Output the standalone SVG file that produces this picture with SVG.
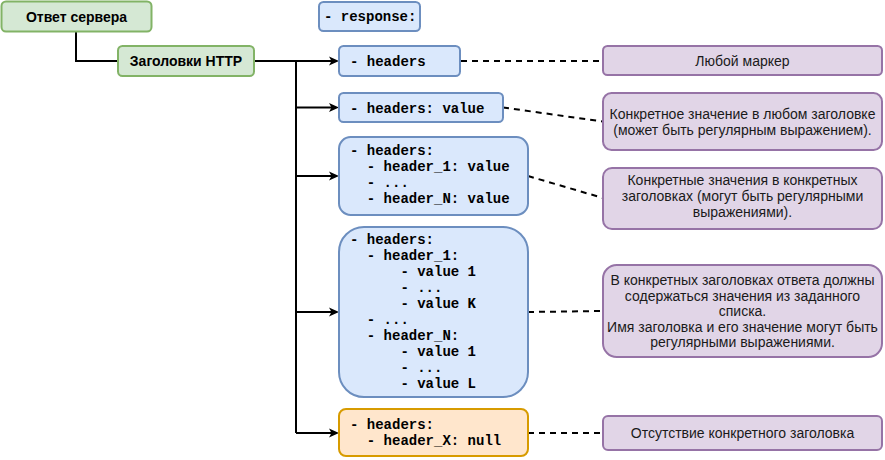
<svg xmlns="http://www.w3.org/2000/svg" width="885" height="460" viewBox="0 0 885 460">
<style>
.g{fill:#d5e8d4;stroke:#82b366;stroke-width:2}
.b{fill:#dae8fc;stroke:#6c8ebf;stroke-width:2}
.o{fill:#ffe6cc;stroke:#d79b00;stroke-width:2}
.p{fill:#e1d5e7;stroke:#9673a6;stroke-width:2}
.hb{font-family:"Liberation Sans",Arial,sans-serif;font-size:14px;font-weight:bold;fill:#000;text-anchor:middle}
.t{font-family:"Liberation Sans",Arial,sans-serif;font-size:14px;fill:#1a1a1a;text-anchor:middle}
.m{font-family:"Liberation Mono","Courier New",monospace;font-size:14px;font-weight:bold;fill:#000}
.ln{fill:none;stroke:#000;stroke-width:2}
.dl{fill:none;stroke:#000;stroke-width:2;stroke-dasharray:6 5}
</style>
<defs>
<marker id="arr" viewBox="0 0 10 10" refX="3" refY="5" markerWidth="10" markerHeight="10" markerUnits="userSpaceOnUse" orient="auto">
<path d="M0,0.5 L10,5 L0,9.5 L2.5,5 Z" fill="#000"/>
</marker>
</defs>
<g id="connectors">
<path class="ln" d="M76,31 V61 H118"/>
<path class="ln" d="M254,61 H296 V433"/>
<path class="ln" d="M296,61 H332" marker-end="url(#arr)"/>
<path class="ln" d="M296,107.5 H332" marker-end="url(#arr)"/>
<path class="ln" d="M296,176 H332" marker-end="url(#arr)"/>
<path class="ln" d="M296,312 H332" marker-end="url(#arr)"/>
<path class="ln" d="M296,433 H332" marker-end="url(#arr)"/>
<path class="dl" d="M461,61 H603"/>
<path class="dl" d="M503,107.5 L603,121.5"/>
<path class="dl" d="M528,176 L603,198"/>
<path class="dl" d="M528,312 L603,311"/>
<path class="dl" d="M528,433 H603"/>
</g>
<g id="server">
<rect class="g" x="1.5" y="1.5" width="150" height="30" rx="4.5"/>
<text class="hb" x="76.5" y="22">Ответ сервера</text>
</g>
<g id="http">
<rect class="g" x="118" y="46" width="136" height="30" rx="4.5"/>
<text class="hb" x="186" y="66">Заголовки HTTP</text>
</g>
<g id="response">
<rect class="b" x="319" y="2" width="101" height="29" rx="4.5"/>
<text class="m" x="324" y="21">- response:</text>
</g>
<g id="h1">
<rect class="b" x="339" y="46" width="121" height="30" rx="4.5"/>
<text class="m" x="350" y="66">- headers</text>
</g>
<g id="h2">
<rect class="b" x="339" y="93" width="164" height="29" rx="4.5"/>
<text class="m" x="350" y="112.5">- headers: value</text>
</g>
<g id="h3">
<rect class="b" x="339" y="137" width="189" height="78" rx="11.7"/>
<text class="m" x="350" y="155">- headers:</text>
<text class="m" x="366.8" y="171">- header_1: value</text>
<text class="m" x="366.8" y="187">- ...</text>
<text class="m" x="366.8" y="203">- header_N: value</text>
</g>
<g id="h4">
<rect class="b" x="339" y="227" width="189" height="170" rx="25"/>
<text class="m" x="350" y="244">- headers:</text>
<text class="m" x="366.8" y="260">- header_1:</text>
<text class="m" x="400.4" y="276">- value 1</text>
<text class="m" x="400.4" y="292">- ...</text>
<text class="m" x="400.4" y="308">- value K</text>
<text class="m" x="366.8" y="324">- ...</text>
<text class="m" x="366.8" y="340">- header_N:</text>
<text class="m" x="400.4" y="356">- value 1</text>
<text class="m" x="400.4" y="372">- ...</text>
<text class="m" x="400.4" y="388">- value L</text>
</g>
<g id="h5">
<rect class="o" x="339" y="409" width="189" height="47" rx="7"/>
<text class="m" x="350" y="429">- headers:</text>
<text class="m" x="366.8" y="445">- header_X: null</text>
</g>
<g id="d1">
<rect class="p" x="603" y="46" width="279" height="29" rx="4.5"/>
<text class="t" x="742.5" y="66">Любой маркер</text>
</g>
<g id="d2">
<rect class="p" x="603" y="93" width="279" height="57" rx="8.5"/>
<text class="t" x="742.5" y="118.5">Конкретное значение в любом заголовке</text>
<text class="t" x="742.5" y="134.5">(может быть регулярным выражением).</text>
</g>
<g id="d3">
<rect class="p" x="603" y="168" width="279" height="61" rx="9"/>
<text class="t" x="742.5" y="184.5">Конкретные значения в конкретных</text>
<text class="t" x="742.5" y="200.5">заголовках (могут быть регулярными</text>
<text class="t" x="742.5" y="216.5">выражениями).</text>
</g>
<g id="d4">
<rect class="p" x="603" y="265" width="279" height="92" rx="13.8"/>
<text class="t" x="742.5" y="285">В конкретных заголовках ответа должны</text>
<text class="t" x="742.5" y="300.5">содержаться значения из заданного</text>
<text class="t" x="742.5" y="316">списка.</text>
<text class="t" x="742.5" y="331.5">Имя заголовка и его значение могут быть</text>
<text class="t" x="742.5" y="347">регулярными выражениями.</text>
</g>
<g id="d5">
<rect class="p" x="603" y="416" width="279" height="34" rx="5"/>
<text class="t" x="742.5" y="438">Отсутствие конкретного заголовка</text>
</g>
</svg>
